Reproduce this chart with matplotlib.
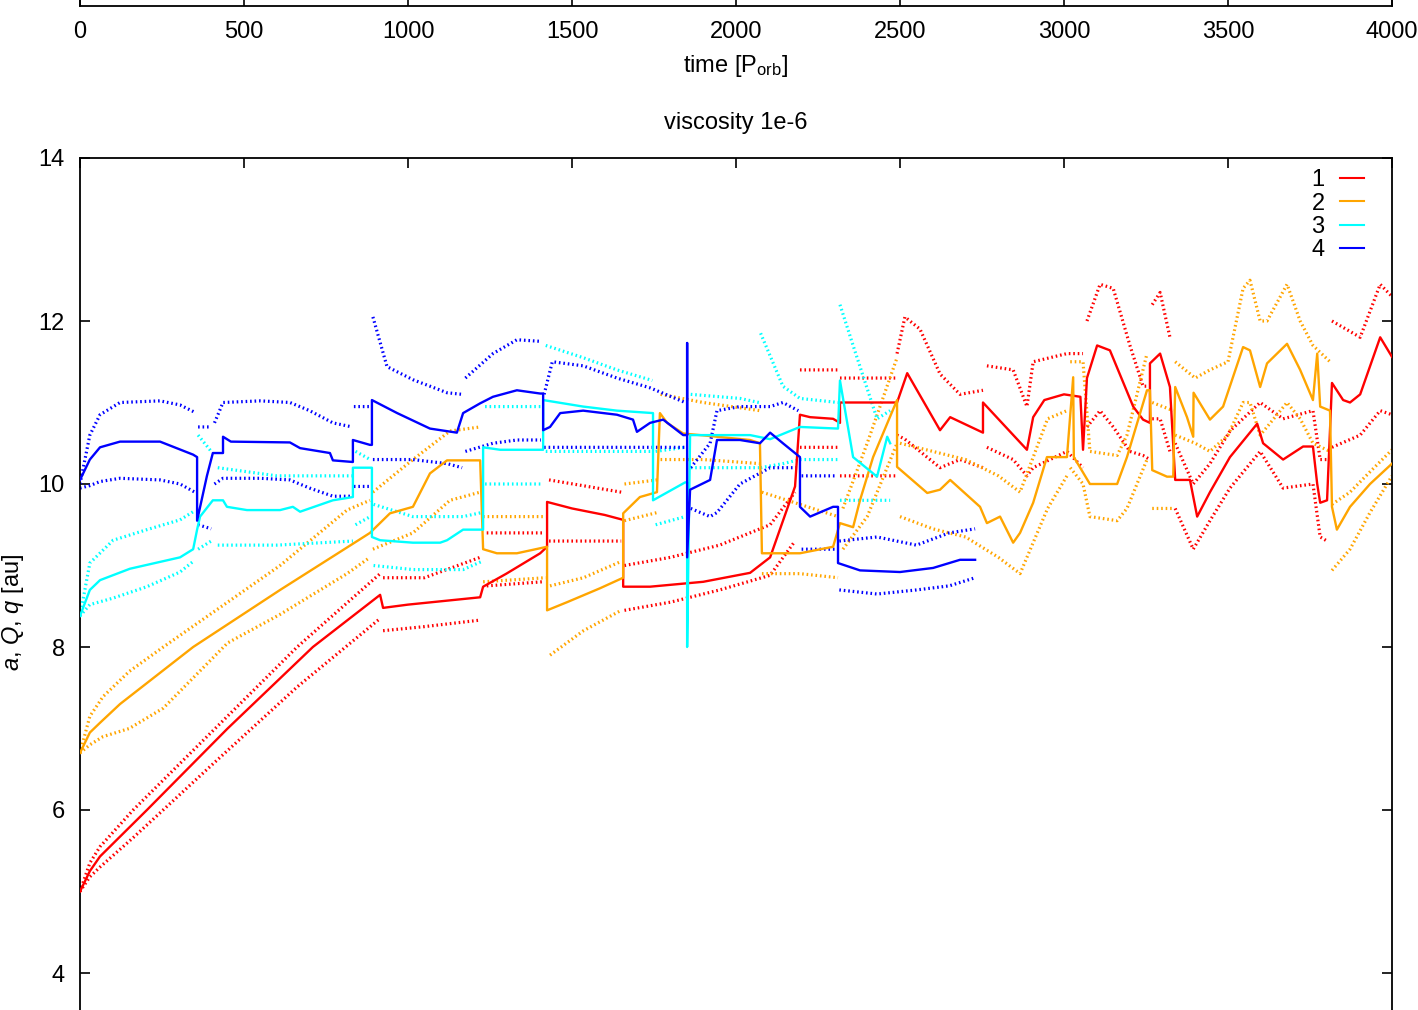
import numpy as np
import matplotlib
matplotlib.use("Agg")
import matplotlib.pyplot as plt
from matplotlib.lines import Line2D

plt.rcParams['font.family'] = ['Liberation Sans', 'DejaVu Sans']
plt.rcParams['mathtext.fontset'] = 'custom'
plt.rcParams['mathtext.rm'] = 'Liberation Sans'
plt.rcParams['mathtext.it'] = 'Liberation Sans:italic'

nan = np.nan

# ---------------- data ----------------
x_ticks = [0, 500, 1000, 1500, 2000, 2500, 3000, 3500, 4000]
y_ticks = [4, 6, 8, 10, 12, 14]
labels = ['1', '2', '3', '4']
colors = ['#ff0000', '#ffa500', '#00ffff', '#0000ff']

# planet 1 (red): semi-major axis
t1 = [0, 30, 61, 204, 450, 710, 915, 924, 1000, 1220, 1229, 1300, 1403, 1424, 1424, 1500, 1600,
      1656, 1656, 1738, 1900, 2043, 2104, 2180, 2195, 2226, 2296, 2317, 2317, 2400, 2491, 2522,
      2622, 2653, 2753, 2753, 2887, 2906, 2940, 3000, 3050, 3058, 3070, 3101, 3140, 3211, 3241,
      3262, 3262, 3293, 3323, 3339, 3384, 3406, 3445, 3506, 3589, 3607, 3668, 3729, 3759, 3772,
      3781, 3802, 3817, 3851, 3872, 3903, 3964, 4000]
a1 = [5.0, 5.25, 5.43, 6.0, 7.0, 8.0, 8.64, 8.48, 8.52, 8.61, 8.74, 8.9, 9.15, 9.23, 9.78, 9.7, 9.62,
      9.56, 8.74, 8.74, 8.8, 8.91, 9.10, 9.97, 10.85, 10.82, 10.8, 10.75, 11.0, 11.0, 11.0, 11.36,
      10.66, 10.82, 10.63, 11.0, 10.42, 10.82, 11.03, 11.1, 11.07, 10.42, 11.3, 11.7, 11.64, 10.95, 10.79,
      10.75, 11.48, 11.6, 11.19, 10.05, 10.05, 9.6, 9.9, 10.33, 10.74, 10.5, 10.3, 10.46, 10.46, 10.0,
      9.77, 9.8, 11.24, 11.03, 11.0, 11.1, 11.8, 11.56]
# planet 1: apocentre Q and pericentre q
te1 = [0, 30, 61, 162, 412, 662, 915, nan, 924, 1050, 1220, nan, 1240, 1410, nan, 1430, 1650, nan,
       1660, 1800, 1950, 2104, 2180, nan, 2195, 2311, nan, 2317, 2491, nan,
       2491, 2515, 2561, 2622, 2683, 2753, nan, 2765, 2845, 2887, 2906, 3009, 3058, nan,
       3070, 3110, 3150, 3201, 3241, 3262, nan, 3269, 3293, 3323, nan,
       3339, 3394, 3445, 3506, 3598, 3668, 3759, 3781, 3802, nan, 3817, 3903, 3964, 4000]
Q1 = [5.0, 5.35, 5.55, 6.0, 7.0, 8.0, 8.9, nan, 8.85, 8.85, 9.1, nan, 9.4, 9.4, nan, 10.05, 9.9, nan,
      9.0, 9.1, 9.25, 9.5, 9.9, nan, 11.4, 11.4, nan, 11.3, 11.3, nan,
      11.6, 12.05, 11.9, 11.35, 11.1, 11.15, nan, 11.45, 11.4, 10.95, 11.5, 11.6, 11.6, nan,
      12.0, 12.45, 12.4, 11.7, 11.2, 11.2, nan, 12.2, 12.35, 11.8, nan,
      10.5, 10.0, 10.25, 10.65, 11.0, 10.8, 10.9, 10.3, 10.3, nan, 12.0, 11.8, 12.45, 12.3]
q1 = [5.0, 5.18, 5.3, 5.66, 6.59, 7.51, 8.35, nan, 8.2, 8.25, 8.33, nan, 8.75, 8.8, nan, 9.3, 9.3, nan,
      8.45, 8.55, 8.7, 8.88, 9.3, nan, 10.45, 10.45, nan, 10.1, 10.1, nan,
      10.6, 10.55, 10.4, 10.2, 10.3, 10.2, nan, 10.45, 10.3, 10.1, 10.2, 10.4, 10.2, nan,
      10.7, 10.9, 10.7, 10.4, 10.35, 10.3, nan, 10.8, 10.8, 10.4, nan,
      9.7, 9.2, 9.55, 9.95, 10.4, 9.95, 10.0, 9.35, 9.3, nan, 10.45, 10.6, 10.9, 10.85]

# planet 2 (orange)
t2 = [0, 30, 61, 122, 345, 610, 845, 884, 945, 1015, 1067, 1119, 1220, 1229, 1271,
      1332, 1424, 1424, 1485, 1585, 1656, 1656, 1707, 1759, 1768, 1790, 1839, 1942, 2043, 2073,
      2079, 2195, 2296, 2317, 2357, 2378, 2418, 2491, 2491, 2583, 2622, 2653, 2744, 2765, 2805,
      2845, 2866, 2906, 2948, 3009, 3028, 3030, 3079, 3162, 3192, 3253, 3262, 3269, 3314, 3333,
      3339, 3375, 3394, 3395, 3445, 3485, 3546, 3567, 3598, 3619, 3680, 3720, 3759, 3772, 3781,
      3811, 3817, 3832, 3872, 3933, 4000]
a2 = [6.70, 6.95, 7.07, 7.30, 8.0, 8.7, 9.30, 9.40, 9.64, 9.72, 10.13, 10.29, 10.29, 9.20, 9.15,
      9.15, 9.23, 8.45, 8.55, 8.72, 8.85, 9.64, 9.84, 9.90, 10.87, 10.75, 10.62, 10.58, 10.54, 10.50,
      9.15, 9.15, 9.23, 9.52, 9.47, 9.80, 10.33, 11.03, 10.21, 9.89, 9.93, 10.05, 9.72, 9.52, 9.60,
      9.28, 9.40, 9.77, 10.33, 10.33, 11.31, 10.33, 10.0, 10.0, 10.33, 11.15, 11.15, 10.17, 10.09, 10.09,
      11.19, 10.82, 10.58, 11.12, 10.79, 10.95, 11.68, 11.64, 11.19, 11.48, 11.72, 11.4, 11.03, 11.6, 10.95,
      10.9, 9.72, 9.44, 9.72, 10.0, 10.25]
te2 = [0, 30, 70, 150, 254, 450, 610, 814, 884, nan, 893, 1015, 1128, 1220, nan,
       1229, 1420, nan, 1433, 1535, 1650, nan, 1660, 1760, nan, 1770, 1900, 2073, nan,
       2079, 2195, 2311, nan, 2326, 2400, 2491, nan,
       2500, 2600, 2700, 2800, 2866, 2950, 3009, nan,
       3019, 3058, 3079, 3162, 3192, 3253, nan, 3269, 3333, nan,
       3339, 3400, 3445, 3500, 3546, 3567, 3598, 3619, 3680, 3720, 3759, 3811, nan,
       3817, 3872, 3933, 4000]
Q2 = [6.70, 7.15, 7.39, 7.7, 8.0, 8.55, 9.0, 9.68, 9.8, nan, 9.9, 10.3, 10.65, 10.7, nan,
      9.6, 9.6, nan, 8.75, 8.85, 9.05, nan, 10.0, 10.05, nan, 11.1, 11.0, 10.9, nan,
      9.9, 9.75, 9.6, nan, 9.7, 10.5, 11.55, nan,
      10.5, 10.4, 10.3, 10.1, 9.9, 10.8, 10.9, nan,
      11.5, 11.5, 10.4, 10.35, 10.6, 11.6, nan, 11.0, 10.9, nan,
      11.5, 11.3, 11.4, 11.5, 12.4, 12.5, 12.0, 12.0, 12.45, 12.0, 11.7, 11.5, nan,
      9.75, 9.9, 10.15, 10.42]
q2 = [6.70, 6.80, 6.90, 7.0, 7.25, 8.05, 8.4, 8.9, 9.1, nan, 9.2, 9.4, 9.8, 9.9, nan,
      8.8, 8.85, nan, 7.9, 8.2, 8.45, nan, 9.55, 9.65, nan, 10.3, 10.3, 10.25, nan,
      8.9, 8.9, 8.85, nan, 9.2, 9.6, 10.5, nan,
      9.6, 9.45, 9.35, 9.1, 8.9, 9.7, 10.1, nan,
      10.2, 10.0, 9.6, 9.55, 9.7, 10.3, nan, 9.7, 9.7, nan,
      10.6, 10.5, 10.4, 10.6, 11.0, 11.0, 10.6, 10.7, 11.0, 10.8, 10.5, 10.4, nan,
      8.94, 9.2, 9.65, 10.1]

# planet 3 (cyan)
t3 = [0, 30, 61, 152, 305, 345, 357, 366, 405, 436, 448, 509, 610, 649, 671,
      771, 832, 832, 890, 890, 915, 1015, 1098, 1119, 1168, 1229, 1229, 1281, 1412, 1412,
      1534, 1637, 1747, 1747, 1845, 1851, 1851, 1860, 1921, 2043, 2104, 2195, 2311, 2317, 2357,
      2430, 2461, 2470]
a3 = [8.38, 8.70, 8.82, 8.96, 9.10, 9.20, 9.44, 9.6, 9.80, 9.80, 9.72, 9.68, 9.68, 9.72, 9.66,
      9.80, 9.84, 10.2, 10.2, 9.35, 9.31, 9.28, 9.28, 9.31, 9.44, 9.44, 10.45, 10.42, 10.42, 11.03,
      10.95, 10.9, 10.87, 9.8, 10.02, 10.02, 8.0, 10.6, 10.6, 10.6, 10.55, 10.7, 10.68, 11.27, 10.33,
      10.09, 10.58, 10.5]
te3 = [0, 30, 101, 204, 305, 345, nan, 360, 400, nan, 420, 600, 832, nan, 840, 885, nan,
       895, 1015, 1168, 1225, nan, 1235, 1405, nan, 1420, 1534, 1637, 1745, nan,
       1755, 1845, nan, 1862, 2012, 2070, nan, 2075, 2143, 2195, 2311, nan,
       2317, 2357, 2430, 2470]
Q3 = [8.38, 9.03, 9.31, 9.44, 9.56, 9.66, nan, 10.6, 10.4, nan, 10.2, 10.1, 10.1, nan, 10.4, 10.3, nan,
      9.75, 9.6, 9.6, 9.65, nan, 10.95, 10.95, nan, 11.7, 11.55, 11.4, 11.27, nan,
      10.4, 10.45, nan, 11.1, 11.05, 11.0, nan, 11.85, 11.2, 11.05, 11.0, nan,
      12.2, 11.7, 10.8, 10.9]
q3 = [8.38, 8.52, 8.6, 8.74, 8.92, 9.05, nan, 9.2, 9.3, nan, 9.25, 9.25, 9.3, nan, 9.5, 9.6, nan,
      9.0, 8.95, 8.95, 9.05, nan, 10.0, 10.0, nan, 10.4, 10.4, 10.4, 10.4, nan,
      9.5, 9.6, nan, 10.2, 10.2, 10.2, nan, 10.2, 10.25, 10.3, 10.3, nan,
      9.8, 9.8, 9.8, 9.8]

# planet 4 (blue)
t4 = [0, 30, 61, 122, 244, 345, 357, 357, 387, 405, 436, 436, 460, 640, 671,
      762, 771, 832, 832, 884, 890, 890, 967, 1067, 1149, 1168, 1220, 1259, 1332, 1403,
      1412, 1412, 1433, 1464, 1534, 1637, 1686, 1698, 1738, 1778, 1839, 1851, 1851, 1851, 1860,
      1921, 1942, 2012, 2073, 2104, 2143, 2195, 2195, 2226, 2296, 2311, 2311, 2378, 2500, 2601,
      2683, 2729]
a4 = [10.05, 10.30, 10.45, 10.52, 10.52, 10.36, 10.33, 9.55, 10.1, 10.38, 10.38, 10.58, 10.52, 10.51, 10.44,
      10.38, 10.29, 10.27, 10.54, 10.48, 10.48, 11.03, 10.87, 10.68, 10.63, 10.87, 10.99, 11.07, 11.15, 11.11,
      11.11, 10.66, 10.70, 10.87, 10.90, 10.85, 10.79, 10.64, 10.75, 10.79, 10.60, 10.60, 11.73, 9.10, 9.93,
      10.05, 10.54, 10.54, 10.50, 10.63, 10.50, 10.33, 9.72, 9.60, 9.72, 9.72, 9.03, 8.94, 8.92, 8.97,
      9.07, 9.07]
te4 = [0, 30, 61, 122, 244, 305, 350, nan, 360, 400, nan,
       410, 436, 550, 640, 700, 771, 830, nan, 835, 885, nan,
       893, 936, 1015, 1119, 1165, nan, 1175, 1259, 1332, 1405, nan,
       1415, 1440, 1534, 1637, 1738, 1845, nan,
       1862, 1921, 1942, 2012, 2104, 2143, 2190, nan, 2200, 2305, nan,
       2315, 2430, 2550, 2650, 2729]
Q4 = [10.0, 10.6, 10.85, 11.0, 11.02, 10.97, 10.88, nan, 10.7, 10.7, nan,
      10.75, 11.0, 11.02, 11.0, 10.9, 10.75, 10.7, nan, 10.95, 10.95, nan,
      12.05, 11.44, 11.28, 11.12, 11.1, nan, 11.3, 11.6, 11.77, 11.75, nan,
      11.1, 11.5, 11.45, 11.3, 11.18, 11.0, nan,
      10.2, 10.5, 10.9, 10.95, 10.95, 11.0, 10.9, nan, 10.1, 10.1, nan,
      9.3, 9.35, 9.25, 9.4, 9.45]
q4 = [9.95, 9.98, 10.03, 10.07, 10.05, 10.0, 9.9, nan, 9.5, 9.45, nan,
      10.0, 10.07, 10.07, 10.05, 9.95, 9.85, 9.85, nan, 9.97, 9.97, nan,
      10.3, 10.3, 10.3, 10.25, 10.2, nan, 10.4, 10.5, 10.54, 10.54, nan,
      10.45, 10.45, 10.45, 10.45, 10.45, 10.45, nan,
      9.7, 9.6, 9.65, 10.0, 10.2, 10.2, 10.2, nan, 9.2, 9.2, nan,
      8.7, 8.65, 8.7, 8.75, 8.85]

series = [(t1, a1, te1, Q1, q1), (t2, a2, te2, Q2, q2),
          (t3, a3, te3, Q3, q3), (t4, a4, te4, Q4, q4)]

# ---------------- figure ----------------
W, H = 1418, 1010
fig = plt.figure(figsize=(W / 100, H / 100), dpi=100)
FS = 17

left = 80 / W
width = 1312 / W

def style_axes(ax):
    for s in ax.spines.values():
        s.set_linewidth(1.3)
    ax.tick_params(direction='in', length=7, width=1.2, top=True, right=True,
                   labelsize=FS, pad=11)

# top (cut) panel, only its lower edge is visible
ax_top = fig.add_axes([left, 1 - 6 / H, width, 0.3])
ax_top.set_xlim(0, 4000)
ax_top.set_ylim(0, 1)
ax_top.set_xticks(x_ticks)
ax_top.set_yticks([])
style_axes(ax_top)
fig.text(736 / W, 1 - 66 / H, 'time [P$_{\\mathrm{orb}}$]', ha='center', va='center', fontsize=FS)

# main panel
ymin, ymax = 3, 14
ax_h = (ymax - ymin) * 81.5
ax = fig.add_axes([left, (H - 158 - ax_h) / H, width, ax_h / H])
ax.set_xlim(0, 4000)
ax.set_ylim(ymin, ymax)
ax.set_xticks(x_ticks)
ax.set_xticklabels([])
ax.set_yticks(y_ticks)
style_axes(ax)

dot = (0, (0.5, 0.9))
for (t, a, te, Q, q), c in zip(series, colors):
    ax.plot(te, Q, color=c, lw=2.3, ls=dot, zorder=2)
    ax.plot(te, q, color=c, lw=2.3, ls=dot, zorder=2)
    ax.plot(t, a, color=c, lw=1.7, zorder=3)

fig.text(736 / W, 1 - 123 / H, 'viscosity 1e-6', ha='center', va='center', fontsize=FS)
fig.text(13 / W, 1 - 612 / H, '$a$, $Q$, $q$ [au]', ha='center', va='center',
         rotation=90, fontsize=FS)

handles = [Line2D([], [], color=c, lw=1.5) for c in colors]
leg = ax.legend(handles, labels, loc='upper right', frameon=False, markerfirst=False,
                fontsize=FS, handlelength=1.0, handletextpad=0.65, labelspacing=0.05,
                borderaxespad=0, bbox_to_anchor=(1 - 19 / 1312, 1 - 2 / ax_h))

fig.savefig('out.png', dpi=100)
